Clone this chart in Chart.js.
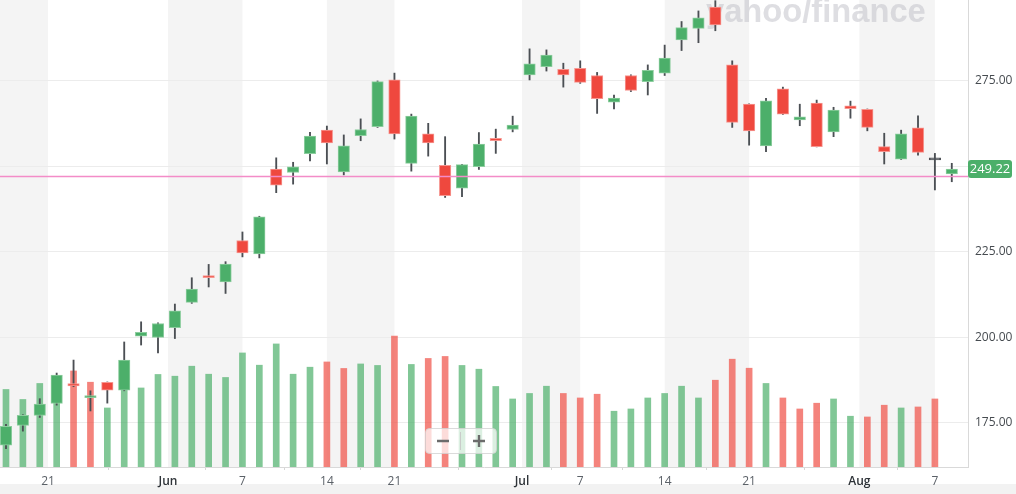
<!DOCTYPE html>
<html lang="en">
<head>
<meta charset="UTF-8">
<title>Price chart</title>
<script src="https://cdn.jsdelivr.net/npm/chart.js@4"></script>
<style>
  html, body { margin: 0; padding: 0; background: #fff; }
  #wrap { width: 1016px; height: 494px; position: relative; }
</style>
</head>
<body>
<div id="wrap"><canvas id="chart"></canvas></div>
<script>
// daily candles, index 0 = first visible trading day
const open  = [168.4,174.2,177.1,180.6,186.4,182.3,186.8,184.5,200.3,199.9,
               202.8,210.2,218.0,216.2,228.3,224.4,249.2,248.2,253.7,260.6,
               248.4,259.0,261.6,275.3,250.9,259.5,250.3,243.6,249.9,258.2,
               260.8,276.8,279.2,278.4,278.7,276.6,268.8,276.6,274.8,277.3,
               287.0,290.4,296.6,279.7,268.2,256.0,272.7,263.6,268.5,260.1,
               267.7,266.7,255.8,252.1,261.3,251.9,247.8];
const high  = [174.5,177.3,182.0,189.5,193.3,184.3,186.9,198.6,204.5,204.2,
               209.7,217.4,221.3,222.1,230.8,235.4,252.5,251.2,260.0,261.8,
               259.2,263.9,275.0,277.3,265.3,262.6,258.7,250.6,259.9,260.9,
               264.7,284.4,284.1,280.2,280.9,277.5,270.9,276.8,279.7,285.5,
               292.4,295.5,298.5,280.9,268.3,269.9,273.2,268.2,269.4,267.3,
               269.1,266.8,259.7,260.6,264.8,253.8,250.9];
const low   = [167.4,172.5,176.5,180.1,185.5,178.4,180.7,184.3,197.7,195.4,
               199.6,209.9,214.7,212.8,223.5,223.2,242.3,244.8,251.6,250.7,
               247.5,257.5,261.4,258.0,248.6,253.0,240.9,241.1,249.1,253.8,
               260.1,275.3,277.9,273.2,274.3,265.5,266.8,271.9,270.9,276.6,
               283.9,286.2,289.7,261.4,256.2,254.3,265.2,261.9,255.7,258.7,
               264.1,260.4,250.7,252.0,253.3,243.1,245.5];
const close = [173.9,177.1,180.4,188.9,185.7,182.8,184.5,193.3,201.4,204.0,
               207.7,214.1,217.4,221.4,224.7,235.2,244.5,249.9,258.9,256.9,
               256.0,260.8,274.8,259.5,264.7,256.9,241.4,250.5,256.5,257.5,
               262.1,280.0,282.6,276.8,274.6,269.8,270.0,272.2,278.1,281.7,
               290.6,293.5,291.4,262.9,260.4,269.2,265.3,264.5,255.8,266.5,
               266.9,261.4,254.3,259.5,254.1,251.9,249.22];
// volume (millions), last day has none yet
const volume = [31.0,27.0,33.4,32.7,38.4,33.9,23.6,40.0,31.6,37.0,
                36.3,40.3,37.1,35.8,45.6,40.7,49.2,37.1,39.9,42.0,
                39.4,41.2,40.6,52.3,41.0,43.4,44.2,40.6,39.1,32.2,
                27.2,29.4,32.3,29.4,27.6,29.1,22.3,23.2,27.6,29.4,
                32.3,27.6,34.7,43.1,39.5,33.4,27.6,23.2,25.5,27.2,
                20.3,20.0,24.7,23.6,24.0,27.2];

const lastPrice = 249.22;
const prevClose = 247.25;

// x axis labels sit on trading-day positions (fractional = between days)
const tickPos    = [2.49, 9.59, 14, 19, 23, 30.55, 34, 39, 44, 50.53, 55];
const tickLabels = ['21', 'Jun', '7', '14', '21', 'Jul', '7', '14', '21', 'Aug', '7'];
const monthLabels = ['Jun', 'Jul', 'Aug'];
const priceTicks = [175, 200, 225, 250, 275];

const GREEN = 'rgb(76,175,106)';
const RED = 'rgb(239,72,62)';
const GREEN_EDGE = 'rgb(140,205,158)';
const RED_EDGE = 'rgb(246,150,144)';
const VOL_GREEN = 'rgba(76,175,106,0.7)';
const VOL_RED = 'rgba(239,72,62,0.68)';
const WICK = '#4b4f54';
const BAND = '#f4f4f4';

Chart.defaults.font.family = "'Open Sans', 'Noto Sans', sans-serif";

function candleColor(i, up, down, flat) {
  if (close[i] > open[i]) return up;
  if (close[i] < open[i]) return down;
  return flat;
}
function volColor(i) {
  if (i === 0) return VOL_GREEN;
  return close[i] >= close[i - 1] ? VOL_GREEN : VOL_RED;
}

const decor = {
  id: 'decor',
  beforeDraw(chart) {
    const { ctx, chartArea: a, scales: { x } } = chart;
    ctx.save();
    // strip under the x axis
    ctx.fillStyle = '#f2f2f2';
    ctx.fillRect(0, 484, chart.width, chart.height - 484);
    // alternating bands between axis labels
    const edges = [x.min, ...tickPos, x.max];
    ctx.fillStyle = BAND;
    for (let k = 0; k < edges.length - 1; k += 2) {
      const x0 = x.getPixelForValue(edges[k]);
      const x1 = x.getPixelForValue(edges[k + 1]);
      ctx.fillRect(x0, a.top, x1 - x0, a.bottom - a.top);
    }
    ctx.restore();
  },
  beforeDatasetsDraw(chart) {
    const { ctx } = chart;
    ctx.save();
    const txt = 'yahoo/finance';
    ctx.font = '900 34px "Liberation Sans", Arial, sans-serif';
    const w = ctx.measureText(txt).width;
    const size = 34 * 220 / w;
    ctx.font = '900 ' + size.toFixed(1) + 'px "Liberation Sans", Arial, sans-serif';
    ctx.fillStyle = 'rgba(190,190,198,0.5)';
    ctx.textBaseline = 'alphabetic';
    ctx.fillText(txt, 706, 22);
    ctx.restore();
  },
  afterDatasetsDraw(chart) {
    const { ctx, chartArea: a, scales: { y } } = chart;
    const py = Math.round(y.getPixelForValue(prevClose)) + 0.5;
    ctx.save();
    ctx.strokeStyle = 'rgb(243,140,200)';
    ctx.lineWidth = 1.3;
    ctx.beginPath();
    ctx.moveTo(a.left, py);
    ctx.lineTo(a.right, py);
    ctx.stroke();
    ctx.restore();
  },
  afterDraw(chart) {
    const { ctx, chartArea: a, scales: { y } } = chart;
    ctx.save();
    // last price tag
    const ly = y.getPixelForValue(lastPrice);
    ctx.fillStyle = GREEN;
    ctx.beginPath();
    ctx.roundRect(a.right, ly - 9, 44, 18, 3);
    ctx.fill();
    ctx.fillStyle = '#fff';
    ctx.font = '13px "Open Sans", sans-serif';
    ctx.textAlign = 'center';
    ctx.textBaseline = 'middle';
    ctx.fillText(lastPrice.toFixed(2), a.right + 22, ly + 0.5);

    // zoom buttons
    ctx.fillStyle = 'rgba(255,255,255,0.72)';
    ctx.strokeStyle = 'rgba(210,210,210,0.8)';
    ctx.lineWidth = 1;
    ctx.beginPath();
    ctx.roundRect(425.5, 428.5, 71, 25, 4);
    ctx.fill();
    ctx.stroke();
    ctx.strokeStyle = 'rgba(200,200,200,0.9)';
    ctx.beginPath();
    ctx.moveTo(460.5, 432);
    ctx.lineTo(460.5, 450);
    ctx.stroke();
    ctx.strokeStyle = '#6b6b6b';
    ctx.lineWidth = 2.4;
    ctx.beginPath();
    ctx.moveTo(437, 441); ctx.lineTo(449, 441);
    ctx.moveTo(473, 441); ctx.lineTo(485, 441);
    ctx.moveTo(479, 435); ctx.lineTo(479, 447);
    ctx.stroke();
    ctx.restore();
  }
};

const xMin = -0.355, xMax = 56.96;

new Chart(document.getElementById('chart'), {
  type: 'bar',
  data: {
    datasets: [
      {
        label: 'Body',
        data: open.map((o, i) => ({ x: i, y: [o, close[i]] })),
        backgroundColor: open.map((o, i) => candleColor(i, GREEN, RED, WICK)),
        borderColor: open.map((o, i) => candleColor(i, GREEN_EDGE, RED_EDGE, WICK)),
        borderWidth: 1,
        borderSkipped: false,
        barThickness: 11.5,
        minBarLength: 2,
        grouped: false,
        order: 1
      },
      {
        label: 'Wick',
        data: low.map((l, i) => ({ x: i, y: [l, high[i]] })),
        backgroundColor: WICK,
        barThickness: 1.2,
        grouped: false,
        order: 2
      },
      {
        label: 'Volume',
        yAxisID: 'vol',
        data: volume.map((v, i) => ({ x: i, y: v })),
        backgroundColor: volume.map((v, i) => volColor(i)),
        barThickness: 6,
        grouped: false,
        order: 3
      }
    ]
  },
  options: {
    responsive: true,
    maintainAspectRatio: false,
    animation: false,
    layout: { padding: 0 },
    plugins: { legend: { display: false }, tooltip: { enabled: false } },
    scales: {
      x: {
        type: 'linear',
        min: xMin,
        max: xMax,
        offset: false,
        afterBuildTicks: s => { s.ticks = tickPos.map(v => ({ value: v })); },
        afterFit: s => { s.height = 27; s.paddingLeft = 0; s.paddingRight = 0; },
        grid: { drawOnChartArea: false, tickLength: 3, color: '#d6d6d6' },
        border: { color: '#d9d9d9' },
        ticks: {
          autoSkip: false,
          maxRotation: 0,
          padding: 4,
          callback: (v, i) => tickLabels[i],
          color: c => monthLabels.includes(tickLabels[c.index]) ? '#2e3338' : '#5b6168',
          font: c => monthLabels.includes(tickLabels[c.index]) ? { size: 12, weight: '600' } : { size: 12 }
        }
      },
      y: {
        position: 'right',
        min: 162.0,
        max: 298.7,
        afterBuildTicks: s => { s.ticks = priceTicks.map(v => ({ value: v })); },
        afterFit: s => { s.width = 48; s.paddingTop = 0; s.paddingBottom = 0; },
        grid: { color: '#ececec', drawTicks: false },
        border: { display: true, color: '#d9d9d9' },
        ticks: {
          padding: 7,
          color: '#464b50',
          font: { size: 12 },
          callback: v => Number(v).toFixed(2)
        }
      },
      vol: {
        display: false,
        min: 0,
        max: 186.7
      }
    }
  },
  plugins: [decor]
});
</script>
</body>
</html>
